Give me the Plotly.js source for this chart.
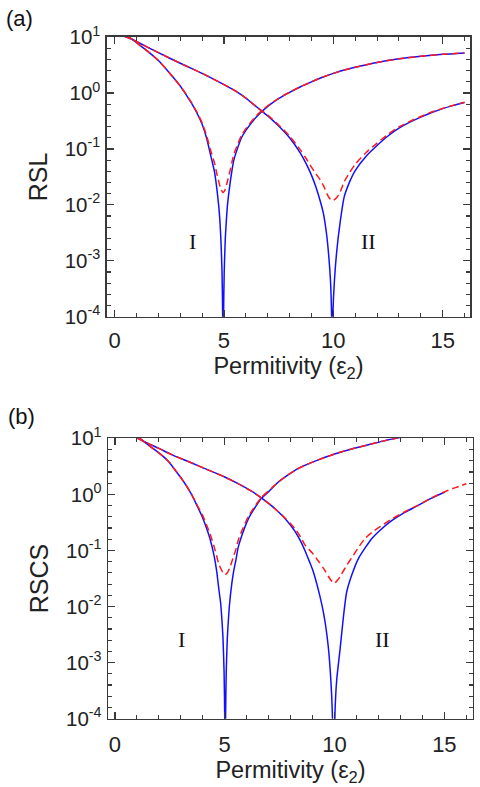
<!DOCTYPE html>
<html>
<head>
<meta charset="utf-8">
<script src="https://cdn.plot.ly/plotly-3.0.1.min.js"></script>
<style>
  html, body { margin: 0; padding: 0; background: #fff; }
  #plot { width: 480px; height: 787px; }
</style>
</head>
<body>
<div id="plot"></div>
<script>
// ---------- Panel (a): RSL ----------
const a_curveI_x_solid = [0.55, 0.82, 1.0, 1.5, 2.0, 2.5, 2.75, 3.0, 3.25, 3.5, 3.75, 4.0, 4.2, 4.4, 4.56, 4.66, 4.76, 4.81, 4.86, 4.91, 4.94, 4.96, 4.98, 5.01, 5.06, 5.11, 5.16, 5.26, 5.36, 5.45, 5.61, 5.8, 6.0, 6.5, 7.0, 7.5, 8.0, 8.5, 9.0, 9.5, 10, 10.5, 11, 12, 13, 14, 15, 16];
const a_curveI_y_solid = [10.5, 9.0, 7.9, 5.6, 3.8, 2.3, 1.76, 1.33, 0.955, 0.668, 0.447, 0.275, 0.158, 0.074, 0.040, 0.0214, 0.0095, 0.0054, 0.0023, 0.00063, 0.0001, 0.000001, 0.0001, 0.00063, 0.0025, 0.0054, 0.010, 0.0214, 0.040, 0.063, 0.10, 0.158, 0.214, 0.38, 0.575, 0.79, 1.02, 1.29, 1.58, 1.91, 2.24, 2.57, 2.88, 3.51, 4.07, 4.52, 4.90, 5.19];

const a_curveI_x_dash = [0.55, 0.82, 1.0, 1.5, 2.0, 2.5, 2.75, 3.0, 3.25, 3.5, 3.75, 4.0, 4.2, 4.4, 4.56, 4.66, 4.76, 4.86, 4.96, 5.06, 5.16, 5.26, 5.36, 5.45, 5.61, 5.8, 6.0, 6.5, 7.0, 7.5, 8.0, 8.5, 9.0, 9.5, 10, 10.5, 11, 12, 13, 14, 15, 16];
const a_curveI_y_dash = [10.5, 9.0, 7.9, 5.6, 3.8, 2.3, 1.76, 1.33, 0.97, 0.685, 0.464, 0.292, 0.175, 0.091, 0.057, 0.038, 0.026, 0.019, 0.0166, 0.019, 0.0266, 0.038, 0.057, 0.080, 0.117, 0.175, 0.23, 0.40, 0.59, 0.80, 1.03, 1.29, 1.58, 1.91, 2.24, 2.57, 2.88, 3.51, 4.07, 4.52, 4.90, 5.19];

const a_curveII_x_solid = [0.4, 0.82, 1.0, 2.0, 3.0, 4.0, 5.0, 5.5, 6.0, 6.5, 7.0, 7.5, 8.0, 8.5, 8.75, 9.0, 9.2, 9.4, 9.55, 9.7, 9.8, 9.87, 9.92, 9.95, 9.98, 10.05, 10.15, 10.3, 10.5, 10.75, 11.0, 11.5, 12.0, 12.5, 13.0, 13.5, 14.0, 14.5, 15.0, 15.5, 16.0];
const a_curveII_y_solid = [10.5, 9.0, 8.3, 5.25, 3.39, 2.24, 1.41, 1.10, 0.81, 0.56, 0.39, 0.257, 0.158, 0.083, 0.055, 0.034, 0.021, 0.0117, 0.0069, 0.0028, 0.0011, 0.00044, 0.00011, 0.000001, 0.00011, 0.00044, 0.0014, 0.0045, 0.014, 0.026, 0.041, 0.074, 0.115, 0.17, 0.234, 0.30, 0.37, 0.447, 0.525, 0.60, 0.676];

const a_curveII_x_dash = [0.4, 0.82, 1.0, 2.0, 3.0, 4.0, 5.0, 5.5, 6.0, 6.5, 7.0, 7.5, 8.0, 8.5, 8.75, 9.0, 9.2, 9.4, 9.55, 9.7, 9.8, 9.9, 10.0, 10.15, 10.3, 10.5, 10.75, 11.0, 11.5, 12.0, 12.5, 13.0, 13.5, 14.0, 14.5, 15.0, 15.5, 16.0];
const a_curveII_y_dash = [10.5, 9.0, 8.3, 5.25, 3.39, 2.24, 1.41, 1.10, 0.81, 0.56, 0.40, 0.268, 0.17, 0.095, 0.068, 0.047, 0.036, 0.028, 0.022, 0.016, 0.0135, 0.0122, 0.012, 0.0134, 0.0165, 0.026, 0.038, 0.053, 0.086, 0.127, 0.182, 0.246, 0.31, 0.38, 0.455, 0.53, 0.605, 0.68];

// ---------- Panel (b): RSCS ----------
const b_curveI_x_solid = [1.14, 1.29, 1.6, 2.0, 2.25, 2.5, 2.75, 3.0, 3.25, 3.5, 3.75, 4.0, 4.17, 4.33, 4.52, 4.64, 4.72, 4.82, 4.87, 4.92, 4.97, 5.0, 5.02, 5.04, 5.07, 5.12, 5.17, 5.22, 5.32, 5.40, 5.52, 5.61, 5.73, 6.07, 6.4, 6.68, 7.0, 7.44, 7.74, 8.2, 8.7, 9.26, 10.0, 10.78, 11.5, 12.2, 12.8, 13.2];
const b_curveI_y_solid = [10.0, 8.9, 7.2, 5.5, 4.57, 3.63, 2.69, 2.0, 1.43, 0.977, 0.617, 0.38, 0.251, 0.162, 0.079, 0.041, 0.0224, 0.011, 0.006, 0.0028, 0.0007, 0.00011, 0.000001, 0.00011, 0.0007, 0.0028, 0.006, 0.011, 0.025, 0.041, 0.071, 0.112, 0.162, 0.363, 0.60, 0.86, 1.12, 1.66, 2.04, 2.69, 3.35, 4.12, 5.25, 6.46, 7.59, 8.91, 10.0, 10.7];

const b_curveI_x_dash = [1.14, 1.29, 1.6, 2.0, 2.25, 2.5, 2.75, 3.0, 3.25, 3.5, 3.75, 4.0, 4.17, 4.33, 4.52, 4.64, 4.72, 4.82, 4.92, 5.02, 5.12, 5.22, 5.32, 5.40, 5.52, 5.61, 5.73, 6.07, 6.4, 6.68, 7.0, 7.44, 7.74, 8.2, 8.7, 9.26, 10.0, 10.78, 11.5, 12.2, 12.8, 13.2];
const b_curveI_y_dash = [10.0, 8.9, 7.2, 5.5, 4.57, 3.63, 2.69, 2.0, 1.44, 0.99, 0.64, 0.417, 0.288, 0.20, 0.116, 0.078, 0.059, 0.048, 0.040, 0.037, 0.040, 0.048, 0.062, 0.078, 0.108, 0.149, 0.20, 0.40, 0.637, 0.897, 1.157, 1.66, 2.04, 2.69, 3.35, 4.12, 5.25, 6.46, 7.59, 8.91, 10.0, 10.7];

const b_curveII_x_solid = [1.0, 1.29, 2.0, 2.58, 3.0, 3.5, 4.1, 5.0, 5.61, 6.2, 6.68, 7.0, 7.44, 7.74, 8.0, 8.2, 8.45, 8.65, 8.85, 9.0, 9.26, 9.5, 9.71, 9.83, 9.9, 9.96, 10.02, 10.1, 10.25, 10.4, 10.55, 10.8, 11.08, 11.4, 11.69, 12.1, 12.6, 13.2, 13.81, 14.4, 15.03];
const b_curveII_y_solid = [10.2, 8.9, 6.6, 5.13, 4.37, 3.63, 2.88, 2.04, 1.55, 1.15, 0.86, 0.69, 0.49, 0.372, 0.282, 0.219, 0.148, 0.10, 0.0646, 0.0457, 0.020, 0.0076, 0.0020, 0.0005, 0.000126, 0.000001, 0.000126, 0.0005, 0.0017, 0.0063, 0.018, 0.038, 0.071, 0.112, 0.162, 0.234, 0.339, 0.479, 0.637, 0.85, 1.10];

const b_curveII_x_dash = [1.0, 1.29, 2.0, 2.58, 3.0, 3.5, 4.1, 5.0, 5.61, 6.2, 6.68, 7.0, 7.44, 7.74, 8.0, 8.2, 8.5, 8.65, 9.0, 9.26, 9.5, 9.71, 9.85, 9.99, 10.15, 10.3, 10.55, 10.8, 11.08, 11.38, 11.69, 12.1, 12.6, 13.2, 13.81, 14.4, 15.03, 15.5, 16.0];
const b_curveII_y_dash = [10.2, 8.9, 6.6, 5.13, 4.37, 3.63, 2.88, 2.04, 1.55, 1.15, 0.86, 0.69, 0.49, 0.38, 0.30, 0.245, 0.162, 0.126, 0.089, 0.065, 0.048, 0.035, 0.029, 0.026, 0.030, 0.037, 0.054, 0.076, 0.112, 0.162, 0.209, 0.27, 0.363, 0.49, 0.645, 0.86, 1.12, 1.32, 1.55];

// ---------- Tick labels ----------
const xTickVals = [0, 5, 10, 15];
const xTickText = ['0', '5', '10', '15'];
const yTickVals = [0.0001, 0.001, 0.01, 0.1, 1, 10];
const yTickText = ['10<sup>-4</sup>', '10<sup>-3</sup>', '10<sup>-2</sup>', '10<sup>-1</sup>', '10<sup>0</sup>', '10<sup>1</sup>'];
const xTitle = 'Permitivity (ε<sub>2</sub>)';
const yTitleA = 'RSL';
const yTitleB = 'RSCS';
const regionLabels = ['I', 'II'];
const panelLabels = ['(a)', '(b)'];

// ---------- Styling ----------
const BLUE = '#1010ff';
const RED = '#ff1a1a';
const AX = '#3a3a3a';
const SANS = 'Liberation Sans, Arial, sans-serif';
const SERIF = 'Liberation Serif, Times New Roman, serif';

function solid(x, y, xa, ya) {
  return { x: x, y: y, xaxis: xa, yaxis: ya, type: 'scatter', mode: 'lines',
           line: { color: BLUE, width: 1.5, shape: 'spline', smoothing: 0.6 }, hoverinfo: 'skip', showlegend: false };
}
function dashed(x, y, xa, ya) {
  return { x: x, y: y, xaxis: xa, yaxis: ya, type: 'scatter', mode: 'lines',
           line: { color: RED, width: 1.5, dash: '7px,4px', shape: 'spline', smoothing: 0.6 }, hoverinfo: 'skip', showlegend: false };
}

const traces = [
  solid(a_curveI_x_solid, a_curveI_y_solid, 'x', 'y'),
  solid(a_curveII_x_solid, a_curveII_y_solid, 'x', 'y'),
  dashed(a_curveI_x_dash, a_curveI_y_dash, 'x', 'y'),
  dashed(a_curveII_x_dash, a_curveII_y_dash, 'x', 'y'),
  solid(b_curveI_x_solid, b_curveI_y_solid, 'x2', 'y2'),
  solid(b_curveII_x_solid, b_curveII_y_solid, 'x2', 'y2'),
  dashed(b_curveI_x_dash, b_curveI_y_dash, 'x2', 'y2'),
  dashed(b_curveII_x_dash, b_curveII_y_dash, 'x2', 'y2')
];

// minor log ticks every 0.2 decade
const yMinor = [];
for (let k = -20; k <= 5; k++) { if (k % 5 !== 0) yMinor.push(Math.pow(10, k / 5)); }

function xAxis(domain, anchor, range, labelStandoff, titleStandoff) {
  return {
    domain: domain, anchor: anchor, range: range, type: 'linear',
    showline: true, linecolor: AX, linewidth: 1.6, mirror: 'allticks',
    ticks: 'inside', ticklen: 7, tickwidth: 1.3, tickcolor: AX,
    tickmode: 'array', tickvals: xTickVals, ticktext: xTickText,
    tickfont: { family: SANS, size: 22, color: '#222' },
    ticklabelstandoff: labelStandoff,
    minor: { dtick: 1, tick0: 0, ticks: 'inside', ticklen: 4, tickwidth: 1.1, tickcolor: AX, showgrid: false },
    showgrid: false, zeroline: false, automargin: false, fixedrange: true,
    title: { text: xTitle, font: { family: SANS, size: 23.5, color: '#222' }, standoff: titleStandoff }
  };
}
function yAxis(domain, anchor, title) {
  return {
    domain: domain, anchor: anchor, type: 'log', range: [-4, 1],
    showline: true, linecolor: AX, linewidth: 1.6, mirror: 'allticks',
    ticks: 'inside', ticklen: 7, tickwidth: 1.3, tickcolor: AX,
    tickmode: 'array', tickvals: yTickVals, ticktext: yTickText,
    tickfont: { family: SANS, size: 20.5, color: '#222' },
    ticklabelstandoff: 1,
    minor: { tickmode: 'array', tickvals: yMinor, ticks: 'inside', ticklen: 4, tickwidth: 1.1, tickcolor: AX, showgrid: false },
    showgrid: false, zeroline: false, automargin: false, fixedrange: true,
    title: { text: title, font: { family: SANS, size: 25, color: '#222' }, standoff: 10 }
  };
}

function roman(text, x, y, xref, yref) {
  return { text: text, x: x, y: y, xref: xref, yref: yref, showarrow: false,
           font: { family: SERIF, size: 22, color: '#111' }, xanchor: 'center', yanchor: 'middle' };
}
function panel(text, x, y) {
  return { text: text, x: x, y: y, xref: 'paper', yref: 'paper', showarrow: false,
           font: { family: SANS, size: 22, color: '#111' }, xanchor: 'center', yanchor: 'middle' };
}

const layout = {
  width: 480, height: 787,
  margin: { l: 0, r: 0, t: 0, b: 0, pad: 0 },
  paper_bgcolor: '#ffffff', plot_bgcolor: '#ffffff',
  showlegend: false,
  xaxis: xAxis([107 / 480, 470 / 480], 'y', [-0.35, 16.25], 3, 0),
  yaxis: yAxis([1 - 316.7 / 787, 1 - 37 / 787], 'x', yTitleA),
  xaxis2: xAxis([108.3 / 480, 472.7 / 480], 'y2', [-0.3, 16.29], 5, 4),
  yaxis2: yAxis([1 - 718.7 / 787, 1 - 438.3 / 787], 'x2', yTitleB),
  annotations: [
    roman(regionLabels[0], 3.56, -2.655, 'x', 'y'),
    roman(regionLabels[1], 11.6, -2.655, 'x', 'y'),
    roman(regionLabels[0], 3.04, -2.58, 'x2', 'y2'),
    roman(regionLabels[1], 12.19, -2.58, 'x2', 'y2'),
    panel(panelLabels[0], 19 / 480, 1 - 18 / 787),
    panel(panelLabels[1], 21 / 480, 1 - 416 / 787)
  ]
};

Plotly.newPlot('plot', traces, layout, { staticPlot: true, displayModeBar: false });
</script>
</body>
</html>
